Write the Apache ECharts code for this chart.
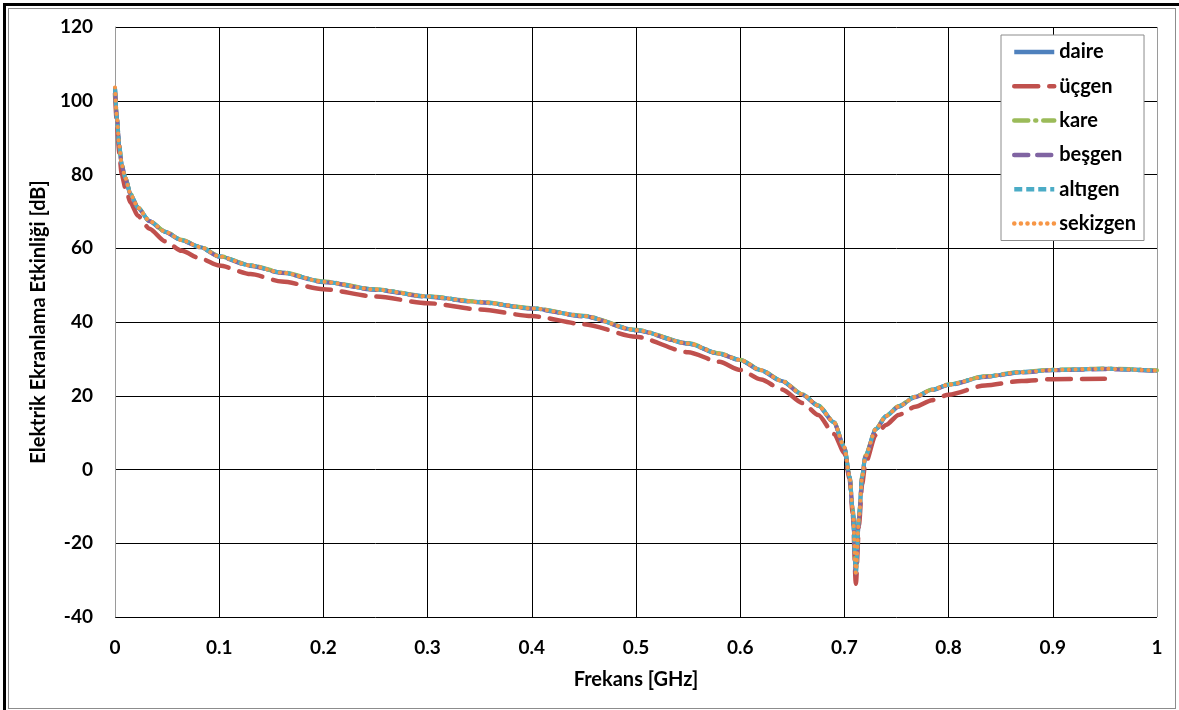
<!DOCTYPE html>
<html>
<head>
<meta charset="utf-8">
<script src="https://cdn.jsdelivr.net/npm/echarts@6/dist/echarts.min.js"></script>
<style>
html,body{margin:0;padding:0;background:#fff;}
#wrap{position:relative;width:1179px;height:710px;overflow:hidden;background:#fff;}
#chart{position:absolute;left:0;top:0;width:1179px;height:710px;}
#f1{position:absolute;left:3px;top:3px;width:1176px;height:707px;border-left:3px solid #000;border-top:3px solid #000;box-sizing:border-box;pointer-events:none;}
#f2{position:absolute;left:8px;top:8px;width:1168px;height:701px;border:1px solid #8c8c8c;box-sizing:border-box;pointer-events:none;}
</style>
</head>
<body>
<div id="wrap"><div id="chart"></div><div id="f1"></div><div id="f2"></div></div>
<script>
// Frequency points [GHz]
var freq = [0, 0.002, 0.004, 0.0065, 0.01, 0.015, 0.022, 0.033, 0.048, 0.064, 0.082, 0.1, 0.13, 0.16, 0.2, 0.25, 0.3, 0.35, 0.4, 0.45, 0.5, 0.55, 0.58, 0.6, 0.62, 0.64, 0.66, 0.675, 0.69, 0.70, 0.705, 0.708, 0.711, 0.714, 0.717, 0.72, 0.73, 0.74, 0.752, 0.768, 0.784, 0.8, 0.835, 0.87, 0.9, 0.95, 1.0];

// Shielding effectiveness [dB]
var daire    = [103.5, 95, 88, 82.6, 79, 74.6, 71, 67.4, 64.5, 62.2, 60.3, 57.8, 55.3, 53.4, 50.9, 48.8, 46.9, 45.4, 43.7, 41.6, 37.8, 34.2, 31.4, 29.7, 26.9, 24, 20.3, 17.3, 12.8, 6, -2, -11, -28, -13, -2, 3.5, 10.9, 14.5, 17.1, 19.7, 21.6, 23, 25.2, 26.4, 27, 27.3, 26.8];
var ucgen    = [102, 93, 86, 80, 76.3, 72.3, 68.8, 65.3, 61.9, 59.3, 57.2, 55.3, 53, 51, 48.9, 46.9, 45.1, 43.4, 41.6, 39.4, 36, 31.8, 29.2, 27, 24.4, 21.7, 18, 14.8, 9.6, 4.5, -2.5, -12, -31, -15, -4, 1.5, 9.3, 12.1, 14.8, 17, 18.8, 20.3, 22.8, 24, 24.5, 24.6, null];
var kare     = [103.3, 95.1, 88.1, 82.7, 79.1, 74.7, 71.1, 67.5, 64.6, 62.3, 60.4, 57.9, 55.4, 53.5, 51, 48.9, 47, 45.5, 43.8, 41.7, 37.9, 34.3, 31.5, 29.8, 27, 24.1, 20.4, 17.4, 12.9, 6.2, -1.7, -10.5, -27, -12.5, -1.7, 3.7, 11, 14.6, 17.2, 19.8, 21.7, 23.1, 25.3, 26.5, 27.1, 27.4, 26.9];
var besgen   = [103.4, 94.9, 87.9, 82.5, 78.9, 74.5, 70.9, 67.3, 64.4, 62.1, 60.2, 57.7, 55.2, 53.3, 50.8, 48.7, 46.8, 45.3, 43.6, 41.5, 37.7, 34.1, 31.3, 29.6, 26.8, 23.9, 20.2, 17.2, 12.7, 5.9, -2.2, -11.3, -28.2, -13.2, -2.2, 3.4, 10.8, 14.4, 17, 19.6, 21.5, 22.9, 25.1, 26.3, 26.9, 27.2, 26.7];
var altigen  = [103.4, 95, 88, 82.6, 79, 74.6, 71, 67.4, 64.5, 62.2, 60.3, 57.8, 55.3, 53.4, 50.9, 48.8, 46.9, 45.4, 43.7, 41.6, 37.8, 34.2, 31.4, 29.7, 26.9, 24, 20.3, 17.3, 12.8, 6, -2, -11, -27.8, -13, -2, 3.5, 10.9, 14.5, 17.1, 19.7, 21.6, 23, 25.2, 26.4, 27, 27.3, 26.8];
var sekizgen = [103.6, 95.1, 88, 82.6, 79, 74.6, 71, 67.4, 64.5, 62.2, 60.3, 57.8, 55.3, 53.4, 50.9, 48.8, 46.9, 45.4, 43.7, 41.6, 37.8, 34.2, 31.4, 29.7, 26.9, 24, 20.3, 17.3, 12.8, 6, -2, -11, -28, -13, -2, 3.5, 10.9, 14.5, 17.1, 19.7, 21.6, 23, 25.2, 26.4, 27, 27.3, 26.8];

var xTicks = ['0', '0.1', '0.2', '0.3', '0.4', '0.5', '0.6', '0.7', '0.8', '0.9', '1'];
var yTicks = ['-40', '-20', '0', '20', '40', '60', '80', '100', '120'];

function pairs(arr) {
  var out = [];
  for (var i = 0; i < freq.length; i++) {
    if (arr[i] !== null && arr[i] !== undefined) out.push([freq[i], arr[i]]);
  }
  return out;
}

var FONT = 'Lato';
function mk(name, arr, color, type, width, cap) {
  return {
    name: name, type: 'line', data: pairs(arr), symbol: 'none', smooth: 0.25,
    smoothMonotone: 'x',
    lineStyle: { color: color, width: width, type: type, cap: cap || 'butt' },
    itemStyle: { color: color },
    emphasis: { disabled: true }
  };
}

var chart = echarts.init(document.getElementById('chart'), null, { renderer: 'canvas' });
chart.setOption({
  animation: false,
  backgroundColor: 'transparent',
  grid: { left: 115, right: 22, top: 27, bottom: 93, containLabel: false, show: false },
  legend: {
    orient: 'vertical', left: 1001, top: 35,
    backgroundColor: '#fff', borderColor: '#8c8c8c', borderWidth: 1,
    padding: [7, 8, 7, 11], itemWidth: 40, itemHeight: 14, itemGap: 14.3,
    itemStyle: { opacity: 0 },
    lineStyle: { width: 4.5 },
    textStyle: { fontFamily: FONT, fontWeight: 'bold', fontSize: 20, color: '#000' },
    data: ['daire', 'üçgen', 'kare', 'beşgen', 'altıgen', 'sekizgen']
  },
  xAxis: {
    type: 'value', min: 0, max: 1, interval: 0.1,
    name: 'Frekans [GHz]', nameLocation: 'middle', nameGap: 53,
    nameTextStyle: { fontFamily: FONT, fontWeight: 'bold', fontSize: 20, color: '#000' },
    axisLine: { show: false },
    axisTick: { show: false },
    axisLabel: {
      margin: 21, fontFamily: FONT, fontWeight: 'bold', fontSize: 19, color: '#000',
      formatter: function (v) { return xTicks[Math.round(v * 10)]; }
    },
    splitLine: { show: true, lineStyle: { color: ['#9a9a9a', '#000', '#000', '#000', '#000', '#000', '#000', '#000', '#000', '#000', '#9a9a9a'], width: 1 } }
  },
  yAxis: {
    type: 'value', min: -40, max: 120, interval: 20,
    name: 'Elektrik Ekranlama Etkinliği [dB]', nameLocation: 'middle', nameGap: 59, nameRotate: 90,
    nameTextStyle: { fontFamily: FONT, fontWeight: 'bold', fontSize: 20, color: '#000' },
    axisLine: { show: true, onZero: false, lineStyle: { color: '#9a9a9a', width: 1 } },
    axisTick: { show: false },
    axisLabel: {
      margin: 22, fontFamily: FONT, fontWeight: 'bold', fontSize: 19, color: '#000',
      formatter: function (v) { var i = Math.round((v + 40) / 20); return yTicks[i]; }
    },
    splitLine: { show: true, lineStyle: { color: '#000', width: 1 } }
  },
  series: [
    mk('daire', daire, '#4F81BD', 'solid', 4),
    mk('üçgen', ucgen, '#C0504D', [24, 11], 4.5, 'round'),
    mk('kare', kare, '#9BBB59', [14, 7, 1, 7], 4, 'round'),
    mk('beşgen', besgen, '#8064A2', [14, 9], 4, 'round'),
    mk('altıgen', altigen, '#4BACC6', [8, 4], 4),
    mk('sekizgen', sekizgen, '#F79646', [0.1, 6.5], 4, 'round')
  ]
});
</script>
</body>
</html>
